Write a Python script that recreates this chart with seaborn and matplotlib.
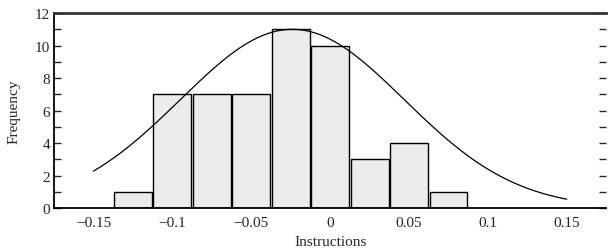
import numpy as np
import pandas as pd
import matplotlib
matplotlib.use("Agg")
import matplotlib.pyplot as plt
import seaborn as sns
from matplotlib.ticker import MultipleLocator

# histogram data
bin_centers = [-0.125, -0.1, -0.075, -0.05, -0.025, 0.0, 0.025, 0.05, 0.075]
counts = [1, 7, 7, 7, 11, 10, 3, 4, 1]
bin_width = 0.025

# fitted normal curve parameters
curve_mean = -0.024
curve_sd = 0.071
curve_peak = 11.0
curve_range = [-0.15, 0.15]

x_ticks = [-0.15, -0.1, -0.05, 0, 0.05, 0.1, 0.15]
x_tick_labels = ["\u22120.15", "\u22120.1", "\u22120.05", "0", "0.05", "0.1", "0.15"]

sns.set_style("white")
plt.rcParams['font.family'] = ['Liberation Serif', 'DejaVu Serif']

df = pd.DataFrame({'center': bin_centers, 'count': counts})

fig = plt.figure(figsize=(6.08, 2.51), dpi=100)
ax = fig.add_axes([0.089, 0.167, 0.908, 0.777])

sns.histplot(data=df, x='center', weights='count', binwidth=bin_width,
             binrange=(bin_centers[0] - bin_width / 2, bin_centers[-1] + bin_width / 2),
             shrink=0.96, color='#ececec', edgecolor='black', linewidth=1.0,
             alpha=1, ax=ax)

# normal curve
xs = np.linspace(curve_range[0], curve_range[1], 200)
ys = curve_peak * np.exp(-0.5 * ((xs - curve_mean) / curve_sd) ** 2)
sns.lineplot(x=xs, y=ys, color='black', linewidth=0.9, ax=ax)

ax.set_xlim(-0.175, 0.175)
ax.set_ylim(0, 12)
ax.set_xticks(x_ticks)
ax.set_xticklabels(x_tick_labels)
ax.yaxis.set_major_locator(MultipleLocator(2))
ax.yaxis.set_minor_locator(MultipleLocator(1))
ax.tick_params(axis='y', which='both', direction='in', length=5, width=1,
               left=True, right=True, labelsize=11, pad=3)
ax.tick_params(axis='x', which='both', length=0, labelsize=11, pad=6)

ax.set_xlabel('Instructions', fontsize=11, labelpad=4)
ax.set_ylabel('Frequency', fontsize=11, labelpad=10)

for s in ['left', 'bottom']:
    ax.spines[s].set_linewidth(1.3)
    ax.spines[s].set_color('black')
ax.spines['top'].set_linewidth(2)
ax.spines['top'].set_color('#333333')
ax.spines['right'].set_visible(False)

fig.savefig('out.png', dpi=100)
